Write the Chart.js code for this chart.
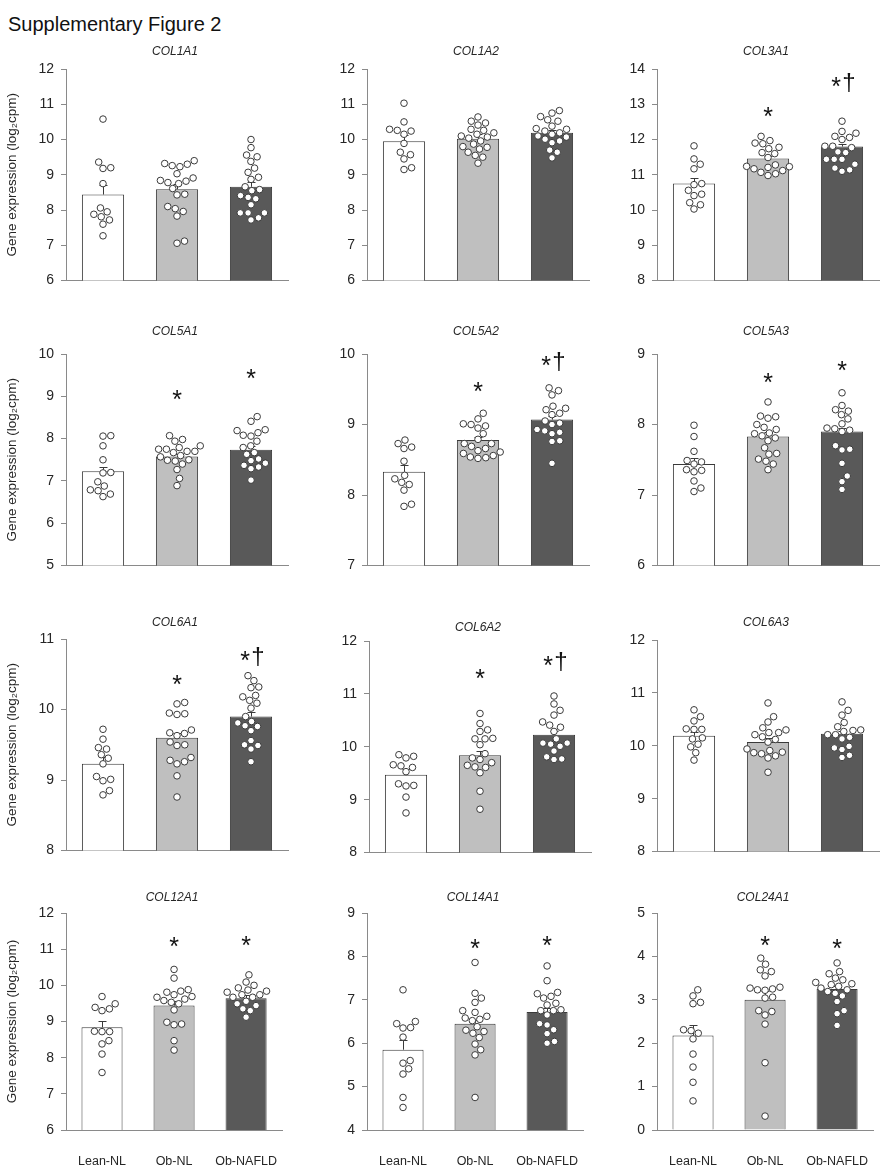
<!DOCTYPE html>
<html>
<head>
<meta charset="utf-8">
<script src="https://cdn.jsdelivr.net/npm/chart.js@4.4.1/dist/chart.umd.min.js"></script>
<style>
  body { margin: 0; background: #fff; width: 891px; height: 1173px; position: relative; overflow: hidden; font-family: Arial, "Liberation Sans", sans-serif; }
  #suptitle { position: absolute; left: 8px; top: 14px; font-size: 20px; line-height: 20px; color: #111; }
  canvas { position: absolute; }
</style>
</head>
<body>
<div id="suptitle">Supplementary Figure 2</div>
<script>
const groups = ['Lean-NL', 'Ob-NL', 'Ob-NAFLD'];
const genes = ['COL1A1', 'COL1A2', 'COL3A1', 'COL5A1', 'COL5A2', 'COL5A3',
               'COL6A1', 'COL6A2', 'COL6A3', 'COL12A1', 'COL14A1', 'COL24A1'];
const yMin = [6, 6, 8, 5, 7, 6, 8, 8, 8, 6, 4, 0];
const yMax = [12, 12, 14, 10, 10, 9, 11, 12, 12, 12, 9, 5];

// bar heights (group means) and SEM
const means = [
  [8.44, 8.59, 8.66], [9.95, 10.02, 10.19], [10.75, 11.46, 11.80],
  [7.23, 7.58, 7.74], [8.33, 8.78, 9.07], [7.44, 7.83, 7.90],
  [9.23, 9.60, 9.90], [9.47, 9.84, 10.23], [10.19, 10.07, 10.23],
  [8.84, 9.44, 9.64], [5.85, 6.45, 6.72], [2.18, 3.00, 3.25]
];
const sems = [
  [0.28, 0.16, 0.15], [0.17, 0.13, 0.09], [0.16, 0.07, 0.08],
  [0.11, 0.05, 0.09], [0.10, 0.05, 0.05], [0.08, 0.06, 0.05],
  [0.09, 0.07, 0.07], [0.11, 0.09, 0.07], [0.08, 0.08, 0.05],
  [0.17, 0.14, 0.08], [0.23, 0.09, 0.09], [0.23, 0.20, 0.06]
];

// individual samples
const leanPts = [
  [10.58, 9.36, 9.2, 9.18, 8.75, 8.06, 7.95, 7.88, 7.81, 7.72, 7.6, 7.27],
  [11.03, 10.5, 10.29, 10.26, 10.24, 10.15, 9.89, 9.64, 9.57, 9.45, 9.2, 9.15],
  [11.82, 11.45, 11.30, 11.17, 10.75, 10.72, 10.56, 10.45, 10.41, 10.21, 10.15, 10.03],
  [8.07, 8.06, 7.83, 7.5, 7.2, 7.19, 6.98, 6.88, 6.79, 6.77, 6.69, 6.63],
  [8.78, 8.73, 8.68, 8.66, 8.48, 8.28, 8.23, 8.18, 8.15, 8.07, 7.87, 7.84],
  [7.99, 7.83, 7.62, 7.49, 7.47, 7.44, 7.36, 7.35, 7.33, 7.2, 7.1, 7.05],
  [9.72, 9.58, 9.46, 9.44, 9.36, 9.31, 9.23, 9.05, 9.01, 8.99, 8.85, 8.79],
  [9.85, 9.82, 9.79, 9.66, 9.64, 9.61, 9.53, 9.3, 9.27, 9.26, 9.05, 8.75],
  [10.68, 10.55, 10.47, 10.32, 10.31, 10.31, 10.15, 10.13, 10.03, 9.98, 9.87, 9.73],
  [9.69, 9.49, 9.39, 9.35, 9.3, 8.73, 8.72, 8.72, 8.47, 8.38, 8.1, 7.59],
  [7.23, 6.5, 6.45, 6.36, 6.35, 6.14, 5.6, 5.54, 5.41, 5.29, 4.75, 4.52],
  [3.23, 3.09, 2.94, 2.91, 2.31, 2.29, 2.23, 2.1, 1.75, 1.45, 1.1, 0.67]
];
const obPts = [
  [9.40, 9.32, 9.30, 9.26, 9.23, 9.03, 8.91, 8.84, 8.82, 8.78, 8.75, 8.61, 8.45, 8.43, 8.10, 8.04, 7.96, 7.83, 7.12, 7.06],
  [10.64, 10.52, 10.47, 10.41, 10.29, 10.26, 10.19, 10.15, 10.1, 10.07, 10.04, 9.96, 9.87, 9.8, 9.78, 9.73, 9.64, 9.55, 9.5, 9.33],
  [12.09, 11.97, 11.90, 11.88, 11.78, 11.74, 11.63, 11.6, 11.49, 11.28, 11.24, 11.23, 11.21, 11.17, 11.12, 11.07, 11.03, 10.98],
  [8.07, 7.98, 7.94, 7.83, 7.79, 7.75, 7.75, 7.7, 7.7, 7.67, 7.6, 7.57, 7.5, 7.49, 7.47, 7.4, 7.27, 7.06, 6.89],
  [9.16, 9.08, 9.01, 9.0, 8.98, 8.95, 8.87, 8.79, 8.73, 8.73, 8.69, 8.66, 8.63, 8.61, 8.59, 8.56, 8.54, 8.53, 8.52],
  [8.32, 8.12, 8.11, 8.09, 8.0, 7.96, 7.93, 7.88, 7.87, 7.84, 7.81, 7.77, 7.67, 7.59, 7.58, 7.51, 7.48, 7.44, 7.36],
  [10.1, 10.08, 9.95, 9.94, 9.93, 9.71, 9.67, 9.66, 9.63, 9.54, 9.5, 9.49, 9.32, 9.28, 9.26, 9.23, 9.06, 8.76],
  [10.63, 10.44, 10.32, 10.29, 10.16, 10.15, 10.15, 10.04, 9.87, 9.79, 9.76, 9.7, 9.65, 9.62, 9.61, 9.51, 9.16, 8.82],
  [10.81, 10.55, 10.45, 10.34, 10.3, 10.25, 10.25, 10.21, 10.17, 10.12, 10.07, 9.94, 9.91, 9.88, 9.87, 9.85, 9.81, 9.77, 9.5],
  [10.44, 10.2, 9.88, 9.84, 9.81, 9.74, 9.69, 9.67, 9.62, 9.58, 9.53, 9.49, 9.32, 8.98, 8.93, 8.91, 8.47, 8.21],
  [7.86, 7.15, 7.04, 6.94, 6.75, 6.71, 6.62, 6.58, 6.55, 6.52, 6.38, 6.3, 6.27, 6.23, 6.13, 5.98, 5.85, 5.73, 4.75],
  [3.96, 3.82, 3.69, 3.65, 3.55, 3.29, 3.27, 3.25, 3.23, 3.22, 3.06, 3.04, 2.75, 2.73, 2.65, 2.44, 1.55, 0.32]
];
const nafldPts = [
  [10.0, 9.77, 9.56, 9.51, 9.38, 9.19, 9.07, 8.93, 8.87, 8.66, 8.58, 8.55, 8.41, 8.36, 8.32, 8.15, 7.92, 7.92, 7.92, 7.78, 7.72],
  [10.82, 10.75, 10.65, 10.56, 10.52, 10.38, 10.31, 10.29, 10.24, 10.19, 10.15, 10.1, 10.07, 10.01, 9.96, 9.91, 9.7, 9.64, 9.48],
  [12.52, 12.23, 12.18, 12.09, 12.06, 12.0, 11.81, 11.81, 11.77, 11.65, 11.63, 11.44, 11.44, 11.44, 11.30, 11.19, 11.14, 11.1],
  [8.52, 8.41, 8.21, 8.19, 8.14, 8.08, 8.06, 7.94, 7.83, 7.79, 7.67, 7.63, 7.52, 7.48, 7.42, 7.37, 7.33, 7.29, 7.02],
  [9.52, 9.48, 9.42, 9.26, 9.23, 9.21, 9.16, 9.14, 9.05, 9.02, 9.0, 8.93, 8.91, 8.89, 8.87, 8.77, 8.76, 8.45],
  [8.45, 8.27, 8.21, 8.19, 8.14, 8.08, 8.01, 7.95, 7.94, 7.92, 7.9, 7.7, 7.65, 7.64, 7.45, 7.27, 7.19, 7.08],
  [10.48, 10.41, 10.32, 10.31, 10.2, 10.18, 10.13, 10.09, 10.02, 9.9, 9.83, 9.81, 9.77, 9.76, 9.7, 9.56, 9.5, 9.49, 9.44, 9.26],
  [10.96, 10.81, 10.69, 10.6, 10.47, 10.41, 10.37, 10.29, 10.15, 10.07, 10.07, 10.05, 10.01, 9.92, 9.81, 9.77, 9.76],
  [10.83, 10.67, 10.58, 10.44, 10.36, 10.3, 10.29, 10.27, 10.21, 10.21, 10.16, 10.13, 9.99, 9.96, 9.93, 9.82, 9.78],
  [10.29, 10.09, 10.0, 9.93, 9.87, 9.84, 9.81, 9.74, 9.74, 9.67, 9.67, 9.56, 9.49, 9.44, 9.35, 9.3, 9.12],
  [7.78, 7.44, 7.17, 7.14, 7.08, 7.04, 6.92, 6.88, 6.77, 6.75, 6.75, 6.65, 6.45, 6.42, 6.31, 6.22, 6.04, 6.0],
  [3.85, 3.65, 3.6, 3.5, 3.46, 3.4, 3.37, 3.35, 3.31, 3.27, 3.23, 3.19, 3.15, 3.09, 2.96, 2.75, 2.68, 2.41]
];

// significance marks (vs Lean-NL: *, vs Ob-NL: †) and the value they sit at
const sigText = [
  ['', '', ''], ['', '', ''], ['', '*', '*†'],
  ['', '*', '*'], ['', '*', '*†'], ['', '*', '*'],
  ['', '*', '*†'], ['', '*', '*†'], ['', '', ''],
  ['', '*', '*'], ['', '*', '*'], ['', '*', '*']
];
const sigY = [
  [0, 0, 0], [0, 0, 0], [0, 12.81, 13.66],
  [0, 9.06, 9.56], [0, 9.54, 9.92], [0, 8.68, 8.85],
  [0, 10.43, 10.78], [0, 11.4, 11.65], [0, 0, 0],
  [0, 11.22, 11.26], [0, 8.32, 8.37], [0, 4.37, 4.32]
];

const barFill = ['#ffffff', '#bfbfbf', '#595959'];
const ink = '#3a3a3a';
const axisGray = '#8a8a8a';
const FONT = 'Arial, "Liberation Sans", sans-serif';

// page placement of each panel: y-axis x, plot top, title centre y
const slots = [
  { x: 66, y: 69, t: 52 }, { x: 367, y: 69, t: 52 }, { x: 657, y: 69, t: 52 },
  { x: 66, y: 354, t: 332 }, { x: 367, y: 354, t: 332 }, { x: 657, y: 354, t: 332 },
  { x: 66, y: 639, t: 623 }, { x: 369, y: 641, t: 628 }, { x: 657, y: 640, t: 623 },
  { x: 66, y: 913, t: 898 }, { x: 367, y: 913, t: 898 }, { x: 657, y: 913, t: 898 }
];
const PLOT_W = 222, PLOT_H = 217, TOP_PAD = 40, RIGHT_PAD = 6, DOT_D = 7.8;

Chart.defaults.font.family = FONT;
Chart.defaults.color = '#262626';

// simple beeswarm: place points bottom-up, nearest free spot to the centre line
function swarm(vals, pxPerUnit) {
  const placed = [];
  const xs = new Array(vals.length);
  const order = vals.map((v, i) => i).sort((a, b) => vals[a] - vals[b]);
  order.forEach(i => {
    const y = vals[i] * pxPerUnit;
    const cands = [0];
    placed.forEach(p => {
      const dy = y - p.y;
      if (Math.abs(dy) < DOT_D) {
        const dx = Math.sqrt(DOT_D * DOT_D - dy * dy);
        cands.push(p.x + dx, p.x - dx);
      }
    });
    cands.sort((a, b) => Math.abs(a) - Math.abs(b));
    const x = cands.find(c => placed.every(p => (p.x - c) ** 2 + (p.y - y) ** 2 >= DOT_D * DOT_D - 0.01));
    placed.push({ x, y });
    xs[i] = x;
  });
  return xs;
}

function makePanel(i) {
  const s = slots[i];
  const col = i % 3;
  const bottomRow = i >= 9;
  const axisW = col === 0 ? s.x : 60;
  const left = s.x - axisW;
  const xAxisH = bottomRow ? 42 : 10;
  const top = s.y - TOP_PAD;
  const w = axisW + PLOT_W + RIGHT_PAD;
  const h = TOP_PAD + PLOT_H + xAxisH;

  const cv = document.createElement('canvas');
  cv.width = w; cv.height = h;
  cv.style.left = left + 'px'; cv.style.top = top + 'px';
  cv.style.width = w + 'px'; cv.style.height = h + 'px';
  document.body.appendChild(cv);

  const pxPerUnit = PLOT_H / (yMax[i] - yMin[i]);
  const dots = [];
  [leanPts, obPts, nafldPts].forEach((src, j) => {
    const vals = src[i];
    const off = swarm(vals, pxPerUnit);
    vals.forEach((v, k) => dots.push({ x: j + off[k] / (PLOT_W / 3), y: v }));
  });

  const errBars = {
    id: 'errBars',
    afterDatasetDraw(chart, args) {
      if (args.index !== 0) return;
      const ctx = chart.ctx, ys = chart.scales.y;
      ctx.save();
      ctx.strokeStyle = ink; ctx.lineWidth = 1;
      args.meta.data.forEach((bar, j) => {
        const x = Math.round(bar.x) + 0.5;
        const yt = Math.round(ys.getPixelForValue(means[i][j] + sems[i][j])) + 0.5;
        ctx.beginPath();
        ctx.moveTo(x, bar.y); ctx.lineTo(x, yt);
        ctx.moveTo(x - 4, yt); ctx.lineTo(x + 4, yt);
        ctx.stroke();
      });
      ctx.restore();
    }
  };

  const labels = {
    id: 'labels',
    afterDraw(chart) {
      const ctx = chart.ctx, a = chart.chartArea, ys = chart.scales.y;
      ctx.save();
      ctx.fillStyle = '#262626';
      ctx.textAlign = 'center';
      ctx.textBaseline = 'middle';
      ctx.font = 'italic 12px ' + FONT;
      ctx.fillText(genes[i], (a.left + a.right) / 2 - 2, s.t - top);
      ctx.fillStyle = '#111';
      ctx.textBaseline = 'alphabetic';
      const bars = chart.getDatasetMeta(0).data;
      sigText[i].forEach((t, j) => {
        if (!t) return;
        const cy = ys.getPixelForValue(sigY[i][j]);
        const dag = t.indexOf('†') >= 0;
        const sx = bars[j].x + (dag ? -6 : 0);
        ctx.font = '25px ' + FONT;
        ctx.fillText('*', sx, cy + 14);
        if (dag) {
          ctx.font = '24px ' + FONT;
          ctx.fillText('†', bars[j].x + 7, cy + 9);
        }
      });
      ctx.restore();
    }
  };

  new Chart(cv, {
    type: 'bar',
    data: {
      datasets: [
        {
          type: 'bar', data: means[i].map((m, j) => ({ x: j, y: m })), order: 1,
          backgroundColor: barFill, borderColor: ink, borderWidth: 1,
          barPercentage: 0.57, categoryPercentage: 1, grouped: false
        },
        {
          type: 'scatter', data: dots, order: 0,
          pointRadius: 3.3, pointHoverRadius: 3.3,
          backgroundColor: '#ffffff', borderColor: ink, borderWidth: 1
        }
      ]
    },
    options: {
      responsive: false, animation: false, events: [],
      layout: { padding: { top: TOP_PAD, left: 0, right: RIGHT_PAD, bottom: 0 } },
      plugins: { legend: { display: false }, tooltip: { enabled: false } },
      scales: {
        x: {
          type: 'linear', min: -0.5, max: 2.5, offset: false,
          grid: { display: false, offset: false },
          border: { display: true, color: axisGray, width: 1 },
          afterBuildTicks: sc => { sc.ticks = groups.map((g, j) => ({ value: j })); },
          ticks: {
            display: bottomRow, padding: 16, autoSkip: false, maxRotation: 0,
            font: { size: 12.5 }, color: '#262626',
            callback: v => groups[v]
          },
          afterFit: sc => { sc.height = xAxisH; }
        },
        y: {
          min: yMin[i], max: yMax[i],
          ticks: { stepSize: 1, padding: 7, font: { size: 14 }, color: '#262626' },
          grid: { drawOnChartArea: false, drawTicks: true, tickLength: 5, color: axisGray },
          border: { display: true, color: axisGray, width: 1 },
          title: {
            display: col === 0,
            text: 'Gene expression (log\u2082cpm)',
            font: { size: 13.5 }, color: '#262626'
          },
          afterFit: sc => { sc.width = axisW; }
        }
      }
    },
    plugins: [errBars, labels]
  });
}

genes.forEach((g, i) => makePanel(i));
</script>
</body>
</html>
